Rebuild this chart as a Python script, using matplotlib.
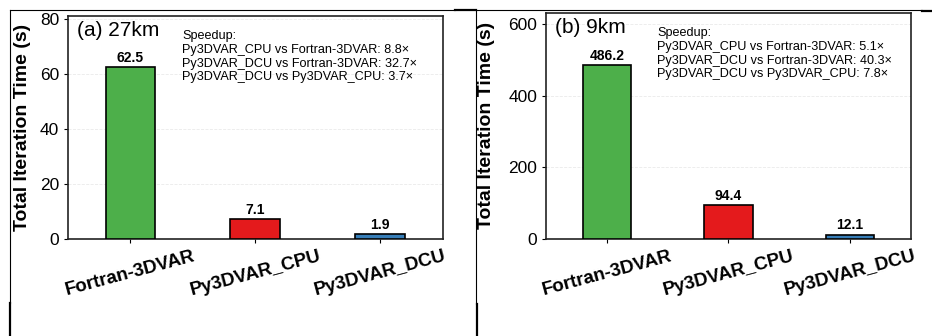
import matplotlib
matplotlib.use('Agg')
import matplotlib.pyplot as plt
from matplotlib.lines import Line2D

plt.rcParams['font.family'] = ['Liberation Sans', 'DejaVu Sans']

# podaci
categories = ['Fortran-3DVAR', 'Py3DVAR_CPU', 'Py3DVAR_DCU']
times_27km = [62.5, 7.1, 1.9]
times_9km = [486.2, 94.4, 12.1]
speedup_27km = [8.8, 32.7, 3.7]
speedup_9km = [5.1, 40.3, 7.8]
colors = ['#4daf4a', '#e41a1c', '#377eb8']
panel_titles = ['(a) 27km', '(b) 9km']

fig = plt.figure(figsize=(9.32, 3.36), dpi=100)
ax1 = fig.add_axes([0.073, 0.289, 0.402, 0.664])
ax2 = fig.add_axes([0.586, 0.289, 0.391, 0.673])


def panel(ax, times, speedup, title):
    x = range(len(categories))
    ax.bar(x, times, width=0.4, color=colors, edgecolor='black', linewidth=1.2, zorder=3)
    top = max(times)
    for xi, v in zip(x, times):
        ax.text(xi, v + top * 0.012, f'{v:.1f}', ha='center', va='bottom',
                fontsize=10, fontweight='bold')
    ax.set_xlim(-0.5, 2.5)
    ax.set_ylim(0, top * 1.3)
    ax.set_xticks(list(x))
    ax.set_xticklabels(categories, rotation=15, fontsize=13.5, fontweight='bold')
    ax.tick_params(axis='y', labelsize=12.5, length=3)
    ax.tick_params(axis='x', length=3)
    ax.set_ylabel('Total Iteration Time (s)', fontsize=14, fontweight='bold')
    ax.grid(axis='y', color='#dddddd', linestyle='--', linewidth=0.6, alpha=0.6, zorder=0)
    for s in ax.spines.values():
        s.set_linewidth(1.2)
        s.set_color('#222222')
    ax.text(0.025, 0.975, title, transform=ax.transAxes, ha='left', va='top', fontsize=15)
    txt = ('Speedup:\n'
           f'Py3DVAR_CPU vs Fortran-3DVAR: {speedup[0]:.1f}\u00d7\n'
           f'Py3DVAR_DCU vs Fortran-3DVAR: {speedup[1]:.1f}\u00d7\n'
           f'Py3DVAR_DCU vs Py3DVAR_CPU: {speedup[2]:.1f}\u00d7')
    ax.text(0.305, 0.935, txt, transform=ax.transAxes, ha='left', va='top',
            fontsize=9.1, linespacing=1.18)


panel(ax1, times_27km, speedup_27km, panel_titles[0])
panel(ax2, times_9km, speedup_9km, panel_titles[1])
ax1.yaxis.set_label_coords(-0.099, 0.5)
ax2.yaxis.set_label_coords(-0.14, 0.5)

# okvir tabele
W, H = 932, 336
def lin(x0, y0, x1, y1, lw):
    fig.add_artist(Line2D([x0 / W, x1 / W], [1 - y0 / H, 1 - y1 / H],
                          transform=fig.transFigure, color='black', linewidth=lw))

lin(10, 10, 455, 10, 0.8)
lin(455, 9.5, 476, 9.5, 1.6)
lin(476, 10, 922, 10, 0.8)
lin(922, 10.5, 932, 10.5, 1.6)
lin(10, 10, 10, 303, 0.8)
lin(10, 303, 10, 336, 1.6)
lin(476, 10, 476, 304, 0.8)
lin(476.5, 304, 476.5, 336, 1.6)

fig.savefig('out.png', dpi=100)
